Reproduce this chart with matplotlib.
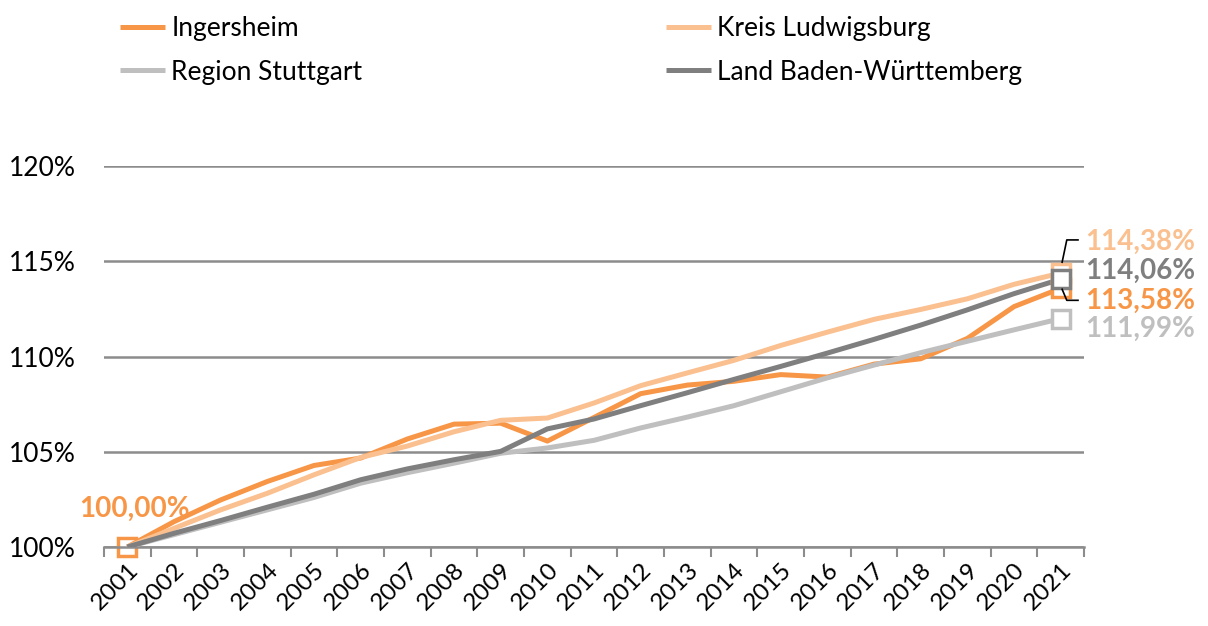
import numpy as np
import matplotlib.pyplot as plt

ORANGE = '#F79646'
LIGHT_ORANGE = '#FAC090'
LIGHT_GRAY = '#BFBFBF'
DARK_GRAY = '#7F7F7F'
GRID = '#8C8C8C'

plt.rcParams.update({'font.family': ['Lato', 'DejaVu Sans']})

years = [str(y) for y in range(2001, 2022)]
ingersheim = [100.00, 101.33, 102.47, 103.44, 104.28, 104.67, 105.67, 106.45, 106.50, 105.56,
              106.80, 108.05, 108.50, 108.70, 109.05, 108.92, 109.60, 109.88, 110.95, 112.62, 113.58]
kreis = [100.00, 100.98, 101.95, 102.82, 103.79, 104.70, 105.30, 106.05, 106.65, 106.77,
         107.56, 108.47, 109.14, 109.80, 110.58, 111.28, 111.95, 112.47, 113.03, 113.79, 114.38]
region = [100.00, 100.65, 101.30, 101.95, 102.60, 103.35, 103.90, 104.40, 104.92, 105.20,
          105.60, 106.25, 106.82, 107.42, 108.15, 108.88, 109.55, 110.20, 110.80, 111.40, 111.99]
land = [100.00, 100.72, 101.39, 102.09, 102.77, 103.53, 104.10, 104.58, 105.02, 106.20,
        106.72, 107.42, 108.10, 108.80, 109.48, 110.18, 110.90, 111.65, 112.45, 113.30, 114.06]

series = [
    ('Ingersheim', ingersheim, ORANGE),
    ('Kreis Ludwigsburg', kreis, LIGHT_ORANGE),
    ('Region Stuttgart', region, LIGHT_GRAY),
    ('Land Baden-Württemberg', land, DARK_GRAY),
]

fig = plt.figure(figsize=(12.08, 6.26), dpi=100)
ax = fig.add_axes([0.0861, 0.1262, 0.8113, 0.6086])

x = np.arange(len(years))
handles = {}
for i, (name, vals, col) in enumerate(series):
    h, = ax.plot(x, vals, color=col, lw=3.6, label=name, zorder=3 + i,
                 solid_capstyle='butt')
    handles[name] = h

# hollow end markers
for i, (name, vals, col) in enumerate(series):
    ax.plot(x[-1], vals[-1], marker='s', ms=13, mfc='white', mec=col, mew=2.5,
            zorder=10 + i, clip_on=False)
ax.plot(x[0], ingersheim[0], marker='s', ms=13, mfc='white', mec=ORANGE, mew=2.5,
        zorder=2.5, clip_on=False)

# data labels
ax.text(x[0] + 0.16, ingersheim[0] + 2.0, '100,00%', color=ORANGE, fontsize=20,
        fontweight='bold', ha='center', va='center')
end_labels = [(kreis[-1], 116.0, LIGHT_ORANGE), (land[-1], 114.5, DARK_GRAY),
              (ingersheim[-1], 112.9, ORANGE), (region[-1], 111.45, LIGHT_GRAY)]
for val, ypos, col in end_labels:
    ax.text(20.52, ypos, f'{val:.2f}%'.replace('.', ','), color=col, fontsize=20,
            fontweight='bold', ha='left', va='center', clip_on=False)

# leader lines
ax.plot([20.37, 20.13, 20.03], [116.12, 116.12, 114.95], color='black', lw=1.2,
        zorder=20, clip_on=False)
ax.plot([20.03, 20.13, 20.37], [113.53, 112.95, 112.95], color='black', lw=1.2,
        zorder=20, clip_on=False)

ax.set_xlim(-0.5, 20.5)
ax.set_ylim(100, 120)
ax.set_yticks([100, 105, 110, 115, 120])
ax.set_yticklabels(['100%', '105%', '110%', '115%', '120%'])
ax.set_xticks(x)
ax.set_xticklabels(years, rotation=45, ha='right', rotation_mode='anchor')
ax.set_xticks(np.arange(-0.5, 21, 1), minor=True)
ax.tick_params(axis='x', which='major', length=0, pad=9, labelsize=17.5)
ax.tick_params(axis='x', which='minor', length=7, width=1.5, color=GRID)
ax.tick_params(axis='y', length=0, pad=20, labelsize=19)

ax.yaxis.grid(True, color=GRID, lw=1.8)
ax.set_axisbelow(True)
for s in ['top', 'right', 'left']:
    ax.spines[s].set_visible(False)
ax.spines['bottom'].set_color(GRID)
ax.spines['bottom'].set_linewidth(1.8)

order = ['Ingersheim', 'Region Stuttgart', 'Kreis Ludwigsburg', 'Land Baden-Württemberg']
fig.legend([handles[n] for n in order], order, ncol=2, loc='upper left',
           bbox_to_anchor=(0.0795, 1.012), frameon=False, fontsize=19,
           handlelength=1.7, handletextpad=0.25, columnspacing=11.5, labelspacing=0.7)

fig.savefig('out.png', dpi=100)
